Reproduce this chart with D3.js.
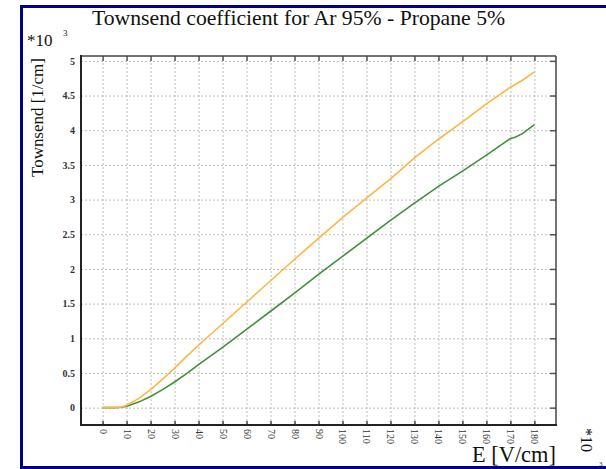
<!DOCTYPE html>
<html>
<head>
<meta charset="utf-8">
<script src="https://cdn.jsdelivr.net/npm/d3@7/dist/d3.min.js"></script>
<style>
  html, body { margin: 0; padding: 0; background: #fff; }
  svg { display: block; }
</style>
</head>
<body>
<svg id="chart" width="606" height="469"></svg>
<script>
// Townsend coefficient (units of 1e3 per cm) versus field E (units of 1e3 V/cm)
const fieldE = [0, 5, 8, 10, 15, 20, 25, 30, 35, 40, 50, 60, 70, 80, 90, 100, 110, 120, 130, 140, 150, 160, 170, 172, 175, 180];
const townsendOrange = [0, 0, 0.01, 0.035, 0.13, 0.26, 0.41, 0.57, 0.74, 0.90, 1.21, 1.52, 1.83, 2.14, 2.44, 2.74, 3.02, 3.30, 3.60, 3.87, 4.12, 4.38, 4.62, 4.66, 4.72, 4.84];
const townsendGreen  = [0, 0, 0.005, 0.02, 0.08, 0.16, 0.26, 0.37, 0.49, 0.62, 0.87, 1.13, 1.39, 1.65, 1.92, 2.18, 2.44, 2.70, 2.95, 3.19, 3.41, 3.64, 3.88, 3.90, 3.95, 4.08];
const xTicks = d3.range(0, 181, 10);
const yTicks = [0, 0.5, 1, 1.5, 2, 2.5, 3, 3.5, 4, 4.5, 5];
const yTickLabels = ["0", "0.5", "1", "1.5", "2", "2.5", "3", "3.5", "4", "4.5", "5"];

const svg = d3.select("#chart");
const serif = "'Liberation Serif', 'Times New Roman', serif";

const plot = { left: 81, right: 556, top: 56, bottom: 425 };
const x = d3.scaleLinear().domain([-9, 189]).range([plot.left, plot.right]);
const y = d3.scaleLinear().domain([-0.25, 5.07]).range([plot.bottom, plot.top]);

// Fit a text element's font size so it spans a given width
function fitWidth(sel, width) {
  const node = sel.node();
  const fs = parseFloat(sel.attr("font-size"));
  const w = node.getComputedTextLength();
  sel.attr("font-size", (fs * width / w).toFixed(2));
}

// Dashed grid
const grid = svg.append("g").attr("class", "grid");
grid.append("g")
  .attr("transform", `translate(0,${plot.bottom})`)
  .call(d3.axisBottom(x).tickValues(xTicks).tickSize(-(plot.bottom - plot.top)).tickFormat(""))
  .call(g => g.select(".domain").remove());
grid.append("g")
  .attr("transform", `translate(${plot.left},0)`)
  .call(d3.axisLeft(y).tickValues(yTicks).tickSize(-(plot.right - plot.left)).tickFormat(""))
  .call(g => g.select(".domain").remove());
grid.selectAll("line")
  .attr("stroke", "#bdbdbd")
  .attr("stroke-width", 1)
  .attr("stroke-dasharray", "2,2");

// Curves
const line = d3.line()
  .x(d => x(d[0]))
  .y(d => y(d[1]));
svg.append("path")
  .datum(fieldE.map((e, i) => [e, townsendGreen[i]]))
  .attr("d", line)
  .attr("fill", "none")
  .attr("stroke", "#3f9139")
  .attr("stroke-width", 1.6);
svg.append("path")
  .datum(fieldE.map((e, i) => [e, townsendOrange[i]]))
  .attr("d", line)
  .attr("fill", "none")
  .attr("stroke", "#ffb53f")
  .attr("stroke-width", 1.6);

// Inward ticks on top and right
const topAxis = svg.append("g")
  .attr("transform", `translate(0,${plot.top})`)
  .call(d3.axisBottom(x).tickValues(xTicks).tickSize(5).tickFormat(""));
const rightAxis = svg.append("g")
  .attr("transform", `translate(${plot.right},0)`)
  .call(d3.axisLeft(y).tickValues(yTicks).tickSize(6).tickFormat(""));
[topAxis, rightAxis].forEach(g => {
  g.select(".domain").remove();
  g.selectAll("line").attr("stroke", "#555").attr("stroke-width", 1.5);
});

// Bottom axis with rotated labels
const bottomAxis = svg.append("g")
  .attr("transform", `translate(0,${plot.bottom})`)
  .call(d3.axisBottom(x).tickValues(xTicks).tickSize(-4).tickFormat(d3.format("d")));
bottomAxis.select(".domain").remove();
bottomAxis.selectAll("line").attr("stroke", "#444").attr("stroke-width", 1.5);
bottomAxis.selectAll("text")
  .attr("y", 0).attr("x", 0)
  .attr("transform", "translate(0,4) rotate(90)")
  .attr("dy", "0.35em")
  .attr("text-anchor", "start")
  .attr("font-family", serif)
  .attr("font-size", 10)
  .attr("fill", "#333");

// Left axis labels
const leftAxis = svg.append("g")
  .attr("transform", `translate(${plot.left},0)`)
  .call(d3.axisLeft(y).tickValues(yTicks).tickSize(0).tickPadding(6)
    .tickFormat((d, i) => yTickLabels[i]));
leftAxis.select(".domain").remove();
leftAxis.selectAll("text")
  .attr("font-family", serif)
  .attr("font-size", 10)
  .attr("font-weight", "bold")
  .attr("fill", "#333");

// Frame
svg.append("line").attr("x1", plot.left).attr("x2", plot.right).attr("y1", plot.top).attr("y2", plot.top)
  .attr("stroke", "#444").attr("stroke-width", 1.5);
svg.append("line").attr("x1", plot.right).attr("x2", plot.right).attr("y1", plot.top).attr("y2", plot.bottom)
  .attr("stroke", "#444").attr("stroke-width", 1.5);
svg.append("line").attr("x1", plot.left).attr("x2", plot.left).attr("y1", plot.top - 1).attr("y2", plot.bottom + 1)
  .attr("stroke", "#222").attr("stroke-width", 2);
svg.append("line").attr("x1", plot.left).attr("x2", plot.right + 1).attr("y1", plot.bottom).attr("y2", plot.bottom)
  .attr("stroke", "#222").attr("stroke-width", 2);

// Titles and axis labels
const title = svg.append("text")
  .attr("x", 92).attr("y", 25)
  .attr("font-family", serif).attr("font-size", 20).attr("fill", "#111")
  .text("Townsend coefficient for Ar 95% - Propane 5%");
fitWidth(title, 413);

svg.append("text")
  .attr("x", 27).attr("y", 46)
  .attr("font-family", serif).attr("font-size", 17).attr("fill", "#111")
  .text("*10");
svg.append("text")
  .attr("x", 63).attr("y", 36)
  .attr("font-family", serif).attr("font-size", 9).attr("fill", "#111")
  .text("3");

const yLabel = svg.append("text")
  .attr("transform", "translate(43,177) rotate(-90)")
  .attr("text-anchor", "start")
  .attr("font-family", serif).attr("font-size", 16).attr("fill", "#111")
  .text("Townsend [1/cm]");
fitWidth(yLabel, 119);

const xLabel = svg.append("text")
  .attr("x", 472).attr("y", 462)
  .attr("font-family", serif).attr("font-size", 19).attr("fill", "#111")
  .text("E [V/cm]");
fitWidth(xLabel, 84);

svg.append("text")
  .attr("transform", "translate(587,428) rotate(90)")
  .attr("dy", "0.35em")
  .attr("font-family", serif).attr("font-size", 16).attr("fill", "#111")
  .text("*10");
svg.append("text")
  .attr("x", 599).attr("y", 466)
  .attr("font-family", serif).attr("font-size", 7).attr("fill", "#333")
  .text("3");

// Navy slide border
const navy = "#000088";
svg.append("line").attr("x1", 20).attr("x2", 606).attr("y1", 6.5).attr("y2", 6.5)
  .attr("stroke", navy).attr("stroke-width", 3);
svg.append("line").attr("x1", 21.5).attr("x2", 21.5).attr("y1", 5).attr("y2", 469)
  .attr("stroke", navy).attr("stroke-width", 3);
svg.append("line").attr("x1", 20).attr("x2", 606).attr("y1", 467.5).attr("y2", 467.5)
  .attr("stroke", navy).attr("stroke-width", 3);
</script>
</body>
</html>
